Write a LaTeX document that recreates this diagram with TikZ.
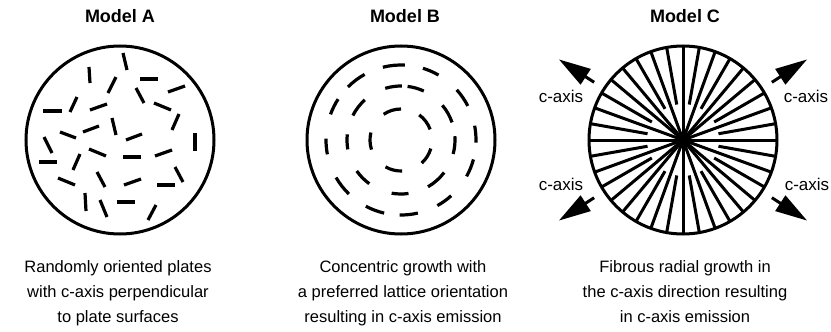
\documentclass[tikz,border=0pt]{standalone}
\usepackage{fontspec}
\setmainfont{Liberation Sans}
\usetikzlibrary{arrows.meta}

\begin{document}
\begin{tikzpicture}[x=1pt,y=-1pt,
    disc/.style={circle,draw,line width=3pt,minimum size=188pt,inner sep=0pt},
    plate/.style={line width=3.2pt},
    spoke/.style={line width=3pt},
    caxis/.style={line width=3pt,-{Triangle[length=32pt,width=18pt]}},
    ttl/.style={font=\fontsize{18}{20}\selectfont\bfseries,anchor=base,inner sep=0pt},
    captxt/.style={font=\fontsize{16.5}{25}\selectfont,align=center,anchor=base,inner sep=0pt},
    lbl/.style={font=\fontsize{17}{20}\selectfont,anchor=base,inner sep=0pt}]

  \useasboundingbox (0,0) rectangle (831,332);

  % titles
  \node[ttl] (ttlA) at (120,23) {Model A};
  \node[ttl] (ttlB) at (405,23) {Model B};
  \node[ttl] (ttlC) at (685,23) {Model C};

  % Model A: random plates
  \node[disc] (discA) at (120,140) {};
  \foreach \xa/\ya/\xb/\yb in {123/53/127/70, 89/67/90/83, 108/93/116/77,
      140/79/158/79, 168/92/185/86, 43/111/62/111, 70/112/77/97,
      90/110/107/104, 136/88/144/103, 154/103/171/110, 172/130/179/114,
      60/132/76/138, 83/132/99/126, 112/118/116/135, 126/140/142/134,
      195/133/195/151, 44/137/52/153, 89/149/106/156, 123/157/141/157,
      155/156/172/150, 39/162/57/162, 73/170/80/154, 97/172/105/187,
      58/178/75/185, 124/185/141/179, 175/167/183/182, 157/185/175/185,
      85/193/86/211, 100/200/107/217, 117/202/135/202, 148/220/156/205}
    \draw[plate] (\xa,\ya) -- (\xb,\yb);

  % Model B: concentric rings
  \node[disc] (discB) at (401,140) {};
  \foreach \r/\a/\b in {75/87/104, 75/60/73, 75/27/42, 75/-2/11, 75/-29/-15,
      75/-61/-48, 75/-91/-77, 75/-118/-103, 75/-150/-134, 75/179/191,
      75/147/160, 75/119/135,
      54/89/107, 54/65/83, 54/19/40, 54/-15/4, 54/-60/-37, 54/-100/-82,
      54/-145/-126, 54/174/190, 54/132/153,
      31/90/124, 31/20/54, 31/-48/-16, 31/-120/-88, 31/166/198}
    \draw[plate] ([shift={(-\a:\r)}]discB.center) arc[start angle=-\a,end angle=-\b,radius=\r];

  % Model C: radial fibres
  \node[disc] (discC) at (683,140) {};
  \foreach \q in {0,90,180,270}
    \foreach \a/\r in {0/0,10/36,20/0,30/36,40/0,50/0,60/36,70/0,80/36}
      \draw[spoke] ([shift={(\a+\q:94)}]discC.center) -- ([shift={(\a+\q:\r)}]discC.center);
  \fill (discC.center) circle[radius=8];

  \coordinate (urS) at ([shift={(-33:106)}]discC.center);
  \coordinate (urT) at ([shift={(-33:148)}]discC.center);
  \coordinate (ulS) at ([shift={(-147:106)}]discC.center);
  \coordinate (ulT) at ([shift={(-147:148)}]discC.center);
  \coordinate (llS) at ([shift={(147:106)}]discC.center);
  \coordinate (llT) at ([shift={(147:148)}]discC.center);
  \coordinate (lrS) at ([shift={(33:106)}]discC.center);
  \coordinate (lrT) at ([shift={(33:148)}]discC.center);
  \draw[caxis] (urS) -- (urT);
  \draw[caxis] (ulS) -- (ulT);
  \draw[caxis] (llS) -- (llT);
  \draw[caxis] (lrS) -- (lrT);

  \node[lbl] (labUL) at (561,102) {c-axis};
  \node[lbl] (labLL) at (561,190) {c-axis};
  \node[lbl] (labUR) at (806,102) {c-axis};
  \node[lbl] (labLR) at (807,190) {c-axis};

  % captions
  \node[captxt] (capA) at (118,322) {Randomly oriented plates\\with c-axis perpendicular\\to plate surfaces};
  \node[captxt] (capB) at (403,322) {Concentric growth with\\a preferred lattice orientation\\resulting in c-axis emission};
  \node[captxt] (capC) at (685,322) {Fibrous radial growth in\\the c-axis direction resulting\\in c-axis emission};
\end{tikzpicture}
\end{document}
